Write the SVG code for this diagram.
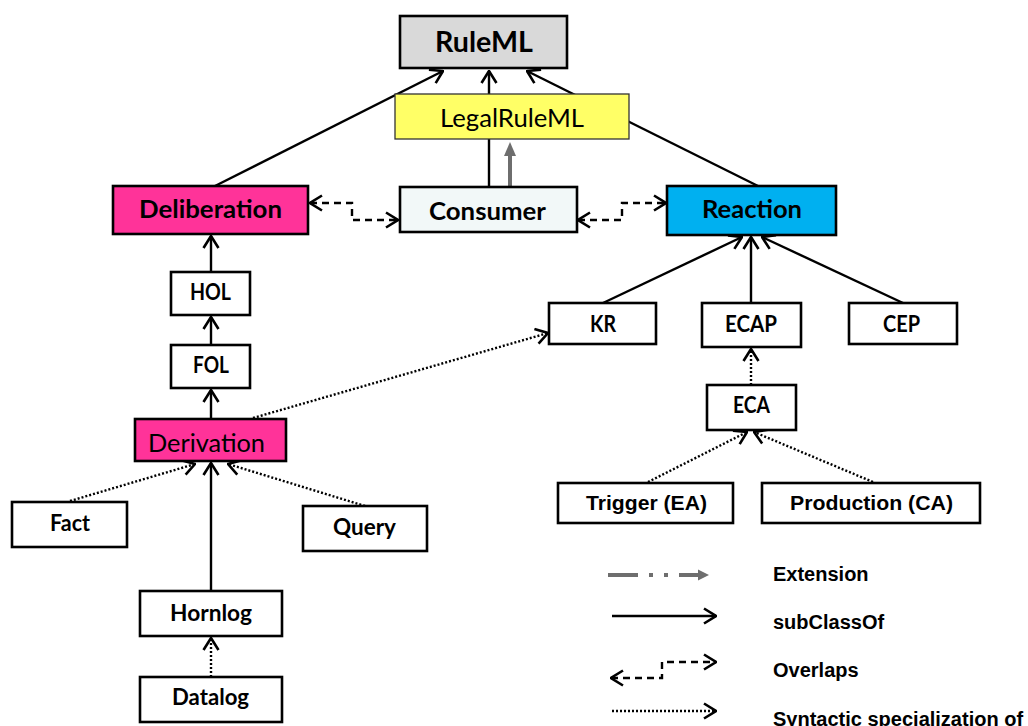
<svg xmlns="http://www.w3.org/2000/svg" width="1028" height="726" viewBox="0 0 1028 726">
<defs>
<style>
.box{stroke:#000;stroke-width:2.6}
.nb{font-family:Lato,"Open Sans","Liberation Sans",sans-serif;font-weight:bold;fill:#000;text-anchor:middle}
.nr{font-family:Lato,"Open Sans","Liberation Sans",sans-serif;font-weight:normal;fill:#000;text-anchor:middle}
.ab{font-family:"Liberation Sans",Arial,sans-serif;font-weight:bold;fill:#000}
.solid{stroke:#000;stroke-width:2.4;fill:none}
.dot{stroke:#000;stroke-width:2.4;fill:none;stroke-dasharray:2 2}
.dash{stroke:#000;stroke-width:2.4;fill:none;stroke-dasharray:7 5}
.ext{stroke:#6e6e6e;stroke-width:4;fill:none}
</style>
<marker id="open" markerUnits="userSpaceOnUse" viewBox="0 0 14 18" markerWidth="14" markerHeight="18" refX="13" refY="9" orient="auto-start-reverse">
<path d="M1,1.5 L13,9 L1,16.5" fill="none" stroke="#000" stroke-width="2.6"/>
</marker>
</defs>
<rect width="1028" height="726" fill="#fff"/>

<g id="connectors">
<line class="solid" x1="215" y1="186" x2="443" y2="71" marker-end="url(#open)"/>
<line class="solid" x1="489" y1="187" x2="489" y2="71" marker-end="url(#open)"/>
<line class="solid" x1="758" y1="186" x2="527" y2="71" marker-end="url(#open)"/>
<path class="dash" d="M310,203 H352 V220 H398" marker-start="url(#open)" marker-end="url(#open)"/>
<path class="dash" d="M578,220 H622 V203 H666" marker-start="url(#open)" marker-end="url(#open)"/>
<line class="solid" x1="211" y1="272" x2="211" y2="236" marker-end="url(#open)"/>
<line class="solid" x1="211" y1="345" x2="211" y2="317" marker-end="url(#open)"/>
<line class="solid" x1="211" y1="419" x2="211" y2="390" marker-end="url(#open)"/>
<line class="dot" x1="253" y1="418" x2="548" y2="333" marker-end="url(#open)"/>
<line class="dot" x1="70" y1="501" x2="195" y2="464" marker-end="url(#open)"/>
<line class="dot" x1="365" y1="506" x2="228" y2="464" marker-end="url(#open)"/>
<line class="solid" x1="211" y1="591" x2="211" y2="463" marker-end="url(#open)"/>
<line class="dot" x1="211" y1="677" x2="211" y2="638" marker-end="url(#open)"/>
<line class="solid" x1="603" y1="303" x2="742" y2="237" marker-end="url(#open)"/>
<line class="solid" x1="751" y1="303" x2="751" y2="237" marker-end="url(#open)"/>
<line class="solid" x1="903" y1="303" x2="762" y2="237" marker-end="url(#open)"/>
<line class="dot" x1="751" y1="385" x2="751" y2="349" marker-end="url(#open)"/>
<line class="dot" x1="648" y1="482" x2="747" y2="432" marker-end="url(#open)"/>
<line class="dot" x1="873" y1="482" x2="754" y2="432" marker-end="url(#open)"/>
</g>

<g id="RuleML"><rect class="box" x="400" y="16" width="167" height="52" fill="#d9d9d9"/><text class="nb" x="484" y="52" font-size="28" textLength="98" lengthAdjust="spacingAndGlyphs">RuleML</text></g>
<g id="LegalRuleML"><rect x="395" y="94" width="234" height="45" fill="#ffff66" stroke="#333" stroke-width="1.3"/><text class="nr" x="512" y="127" font-size="25" textLength="144" lengthAdjust="spacingAndGlyphs">LegalRuleML</text></g>
<g id="extension-arrow"><line class="ext" x1="510" y1="187" x2="510" y2="155"/><path d="M504,156 L516,156 L510,142 Z" fill="#6e6e6e"/></g>
<g id="Deliberation"><rect class="box" x="113" y="186" width="195" height="48" fill="#ff3399"/><text class="nb" x="210.5" y="218" font-size="25" textLength="143" lengthAdjust="spacingAndGlyphs">Deliberation</text></g>
<g id="Consumer"><rect class="box" x="400" y="187" width="177" height="45" fill="#f2f8f8" stroke-width="2"/><text class="nb" x="487.5" y="220" font-size="25" textLength="117" lengthAdjust="spacingAndGlyphs">Consumer</text></g>
<g id="Reaction"><rect class="box" x="667" y="186" width="169" height="49" fill="#00b0f0"/><text class="nb" x="752" y="218" font-size="25" textLength="100" lengthAdjust="spacingAndGlyphs">Reaction</text></g>
<g id="HOL"><rect class="box" x="171" y="272" width="79" height="43" fill="#fff"/><text class="nb" x="210.5" y="300" font-size="22" textLength="41" lengthAdjust="spacingAndGlyphs">HOL</text></g>
<g id="FOL"><rect class="box" x="171" y="345" width="79" height="43" fill="#fff"/><text class="nb" x="211" y="373" font-size="22" textLength="36" lengthAdjust="spacingAndGlyphs">FOL</text></g>
<g id="Derivation"><rect class="box" x="135" y="419" width="151" height="42" fill="#ff3399"/><text class="nr" x="206.5" y="452" font-size="25" textLength="117" lengthAdjust="spacingAndGlyphs">Derivation</text></g>
<g id="Fact"><rect class="box" x="12" y="502" width="115" height="45" fill="#fff"/><text class="nb" x="70" y="531" font-size="22" textLength="40" lengthAdjust="spacingAndGlyphs">Fact</text></g>
<g id="Query"><rect class="box" x="303" y="506" width="124" height="45" fill="#fff"/><text class="nb" x="364.5" y="535" font-size="22" textLength="63" lengthAdjust="spacingAndGlyphs">Query</text></g>
<g id="Hornlog"><rect class="box" x="140" y="591" width="142" height="45" fill="#fff"/><text class="nb" x="211" y="621" font-size="22" textLength="82" lengthAdjust="spacingAndGlyphs">Hornlog</text></g>
<g id="Datalog"><rect class="box" x="140" y="677" width="142" height="45" fill="#fff"/><text class="nb" x="210.5" y="705" font-size="22" textLength="77" lengthAdjust="spacingAndGlyphs">Datalog</text></g>
<g id="KR"><rect class="box" x="549" y="303" width="107" height="41" fill="#fff"/><text class="nb" x="603" y="332" font-size="22" textLength="26" lengthAdjust="spacingAndGlyphs">KR</text></g>
<g id="ECAP"><rect class="box" x="702" y="303" width="99" height="44" fill="#fff"/><text class="nb" x="751" y="332" font-size="22" textLength="52" lengthAdjust="spacingAndGlyphs">ECAP</text></g>
<g id="CEP"><rect class="box" x="849" y="303" width="108" height="41" fill="#fff"/><text class="nb" x="901.5" y="332" font-size="22" textLength="37" lengthAdjust="spacingAndGlyphs">CEP</text></g>
<g id="ECA"><rect class="box" x="707" y="385" width="89" height="45" fill="#fff"/><text class="nb" x="751.5" y="413" font-size="22" textLength="37" lengthAdjust="spacingAndGlyphs">ECA</text></g>
<g id="Trigger"><rect class="box" x="558" y="483" width="175" height="40" fill="#fff"/><text class="ab" x="646.5" y="510" font-size="21" text-anchor="middle" textLength="121" lengthAdjust="spacingAndGlyphs">Trigger (EA)</text></g>
<g id="Production"><rect class="box" x="762" y="483" width="218" height="40" fill="#fff"/><text class="ab" x="871.5" y="510" font-size="21" text-anchor="middle" textLength="163" lengthAdjust="spacingAndGlyphs">Production (CA)</text></g>

<g id="legend">
<line class="ext" x1="608" y1="575" x2="638" y2="575"/>
<line class="ext" x1="649" y1="575" x2="653" y2="575"/>
<line class="ext" x1="664" y1="575" x2="668" y2="575"/>
<line class="ext" x1="679" y1="575" x2="699" y2="575"/>
<path d="M698,569.5 L709,575 L698,580.5 Z" fill="#6e6e6e"/>
<text class="ab" x="773" y="581" font-size="20">Extension</text>
<line class="solid" x1="612" y1="616" x2="716" y2="616" marker-end="url(#open)"/>
<text class="ab" x="773" y="629" font-size="20">subClassOf</text>
<path class="dash" d="M611,678 H662 V662 H716" marker-start="url(#open)" marker-end="url(#open)"/>
<text class="ab" x="773" y="677" font-size="20">Overlaps</text>
<line class="dot" x1="612" y1="711" x2="716" y2="711" marker-end="url(#open)"/>
<text class="ab" x="773" y="726" font-size="20">Syntactic specialization of</text>
</g>
</svg>
